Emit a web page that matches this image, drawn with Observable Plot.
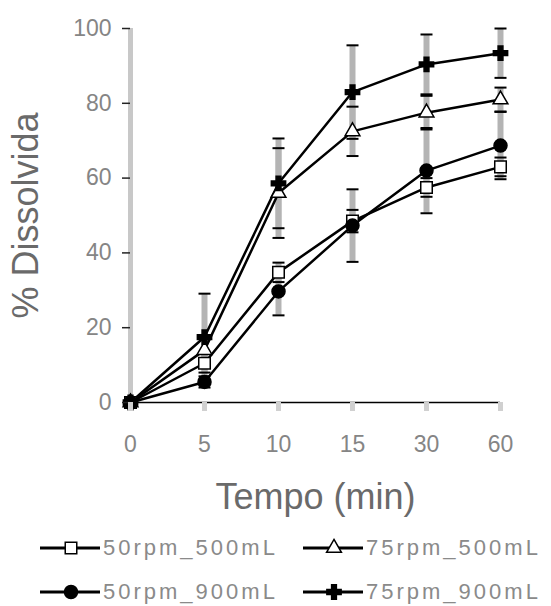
<!DOCTYPE html>
<html><head><meta charset="utf-8">
<script src="https://cdn.jsdelivr.net/npm/d3@7"></script>
<script src="https://cdn.jsdelivr.net/npm/@observablehq/plot@0.6"></script>
<style>
body{margin:0;background:#fff;font-family:"Liberation Sans",Arial,sans-serif;}
#chart{width:551px;height:520px;}
#chart g[aria-label="y-axis label"], #chart g[aria-label="x-axis label"]{font-size:36px;fill:#6a6a6a;}
#legend{position:relative;width:551px;height:86px;overflow:hidden;}
.item{position:absolute;height:26px;display:flex;align-items:center;}
.item svg{display:block}
.item span{font-size:22px;line-height:24px;color:#8a8a8a;letter-spacing:3px;margin-left:3px;white-space:nowrap;}
</style></head><body>
<div id="chart"></div>
<div id="legend"></div>
<script>
const times = ["0","5","10","15","30","60"];
const seriesNames = ["50rpm_500mL","75rpm_500mL","50rpm_900mL","75rpm_900mL"];
const v50_500 = [0, 10.5, 34.8, 48.5, 57.5, 63];
const v75_500 = [0, 14, 56, 72.5, 77.5, 81];
const v50_900 = [0, 5.5, 29.7, 47.3, 62, 68.7];
const v75_900 = [0, 17.5, 58.6, 83, 90.4, 93.4];
const sd50_500 = [0, 2.5, 2.6, 3, 2.5, 2.5];
const sd75_500 = [0, 4, 12, 6.6, 4.5, 3.2];
const sd50_900 = [0, 1.5, 6.4, 9.7, 11.4, 9];
const sd75_900 = [0, 11.6, 12, 12.5, 8, 6.6];
const yTicks = [0, 20, 40, 60, 80, 100];

const vals = [v50_500, v75_500, v50_900, v75_900];
const sds = [sd50_500, sd75_500, sd50_900, sd75_900];
const rows = [];
seriesNames.forEach((s, i) => times.forEach((t, j) => rows.push({series: s, t, v: vals[i][j], sd: sds[i][j]})));
const bars = rows.filter(d => d.sd > 0);

const styles = {
  "50rpm_500mL": {symbol: "square", d3sym: d3.symbolSquare, fill: "white", r: 6.5},
  "75rpm_500mL": {symbol: "triangle", d3sym: d3.symbolTriangle, fill: "white", r: 5.5},
  "50rpm_900mL": {symbol: "circle", d3sym: d3.symbolCircle, fill: "black", r: 6.5},
  "75rpm_900mL": {symbol: "cross", d3sym: d3.symbolCross, fill: "black", r: 6}
};

const cap = {draw(ctx, size) { const w = Math.sqrt(size / Math.PI); ctx.moveTo(-w, 0); ctx.lineTo(w, 0); }};

const dots = seriesNames.map(s => Plot.dot(rows.filter(d => d.series === s), {
  x: "t", y: "v", symbol: styles[s].symbol, r: styles[s].r,
  fill: styles[s].fill, stroke: "black", strokeWidth: 1.5
}));

const chart = Plot.plot({
  width: 551, height: 520,
  marginLeft: 130, marginRight: 51, marginTop: 28, marginBottom: 118,
  style: {fontFamily: '"Liberation Sans", Arial, sans-serif', background: "white"},
  x: {type: "point", domain: times, padding: 0},
  y: {domain: [0, 100]},
  marks: [
    Plot.ruleX([times[0]], {stroke: "#c8c8c8", strokeWidth: 5}),
    Plot.ruleX(bars, {x: "t", y1: d => d.v - d.sd, y2: d => d.v + d.sd, stroke: "#b4b4b4", strokeWidth: 6}),
    Plot.dot(bars, {x: "t", y: d => d.v + d.sd, symbol: cap, r: 6, stroke: "black", strokeWidth: 2, fill: "none"}),
    Plot.dot(bars, {x: "t", y: d => d.v - d.sd, symbol: cap, r: 6, stroke: "black", strokeWidth: 2, fill: "none"}),
    Plot.ruleY([0], {stroke: "black", strokeWidth: 1.5}),
    Plot.line(rows, {x: "t", y: "v", z: "series", stroke: "black", strokeWidth: 2.5}),
    ...dots,
    Plot.axisY({ticks: yTicks, tickSize: 8, tickPadding: 11, stroke: "#222", strokeWidth: 1.5,
      fill: "#858585", fontSize: 23, label: "% Dissolvida", labelAnchor: "center", labelOffset: 118, labelArrow: "none"}),
    Plot.axisX({tickSize: 9, tickPadding: 24, stroke: "#d0d0d0", strokeWidth: 5,
      fill: "#858585", fontSize: 23, label: "Tempo (min)", labelAnchor: "center", labelOffset: 106, labelArrow: "none"})
  ]
});
document.getElementById("chart").appendChild(chart);

// legend
const legendPos = [{x: 40, y: 15}, {x: 303, y: 15}, {x: 40, y: 59}, {x: 303, y: 59}];
const legend = d3.select("#legend");
seriesNames.forEach((s, i) => {
  const st = styles[s];
  const item = legend.append("div").attr("class", "item")
    .style("left", legendPos[i].x + "px").style("top", legendPos[i].y + "px");
  const svg = item.append("svg").attr("width", 60).attr("height", 26);
  svg.append("line").attr("x1", 0).attr("x2", 60).attr("y1", 13).attr("y2", 13)
    .attr("stroke", "black").attr("stroke-width", 3);
  svg.append("path").attr("transform", "translate(31,13)")
    .attr("d", d3.symbol(st.d3sym, st.r * st.r * Math.PI)())
    .attr("fill", st.fill).attr("stroke", "black").attr("stroke-width", 1.5);
  item.append("span").text(s);
});
</script>
</body></html>
